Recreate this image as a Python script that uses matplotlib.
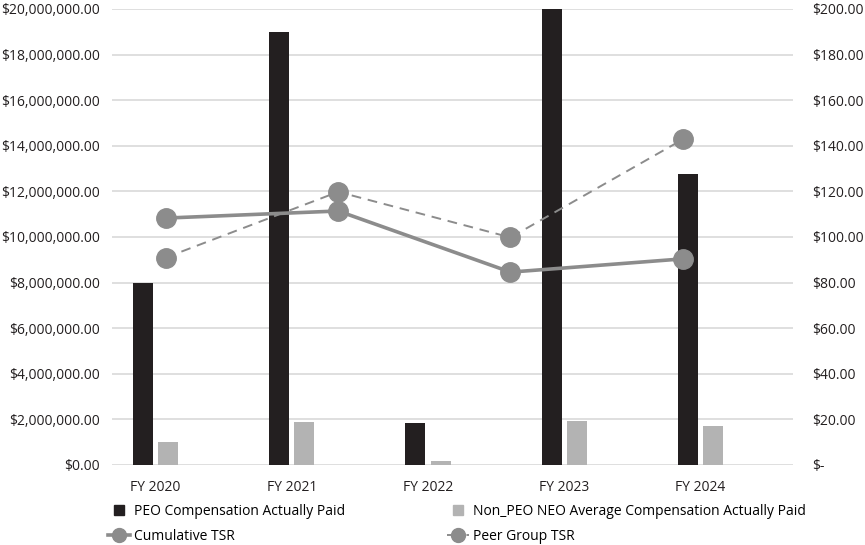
import numpy as np
import matplotlib
matplotlib.use("Agg")
import matplotlib.pyplot as plt
from matplotlib.ticker import FuncFormatter
from matplotlib.lines import Line2D

plt.rcParams['font.family'] = ['Open Sans', 'DejaVu Sans']

years = ['FY 2020', 'FY 2021', 'FY 2022', 'FY 2023', 'FY 2024']
peo_cap = [8000000, 19000000, 1840000, 20000000, 12760000]
neo_cap = [1000000, 1890000, 180000, 1930000, 1710000]

# TSR series only have four points in the source chart
cumulative_tsr = [108.3, 111.4, 84.6, 90.4]
peer_tsr = [91.0, 119.8, 99.8, 142.8]

dark = '#231f20'
light = '#b3b3b3'
line_gray = '#8c8c8c'


def main():
    fig = plt.figure(figsize=(8.65, 5.45), dpi=100)
    ax = fig.add_axes([0.1295, 0.1468, 0.7873, 0.8367])

    x = np.arange(len(years))
    w = 0.147
    ax.bar(x - 0.092, peo_cap, w, color=dark, zorder=3)
    ax.bar(x + 0.092, neo_cap, w, color=light, zorder=3)
    ax.set_xlim(-0.32, 4.68)
    ax.set_ylim(0, 20000000)
    ax.set_yticks(np.arange(0, 20000001, 2000000))
    ax.yaxis.set_major_formatter(FuncFormatter(lambda v, p: '${:,.2f}'.format(v)))
    ax.set_xticks(x)
    ax.set_xticklabels(years)
    ax.grid(axis='y', color='#d9d9d9', linewidth=1.2, zorder=0)
    for s in ax.spines.values():
        s.set_visible(False)
    ax.tick_params(axis='both', length=0, labelsize=10, colors='#231f20')
    ax.tick_params(axis='y', pad=9)
    ax.tick_params(axis='x', pad=11)

    # secondary axes for the TSR lines
    ax2 = ax.twinx().twiny()
    ax2.set_xlim(-0.313, 3.64)
    ax2.set_ylim(0, 200)
    t = np.arange(len(cumulative_tsr))
    ax2.plot(t, cumulative_tsr, color=line_gray, linewidth=2.6, marker='o',
             markersize=14, zorder=4)
    ax2.plot(t, peer_tsr, color=line_gray, linewidth=1.4, linestyle=(0, (5, 3.5)),
             marker='o', markersize=14, zorder=4)
    ax2.set_xticks([])
    ax2.set_yticks([])
    for s in ax2.spines.values():
        s.set_visible(False)

    ax_r = fig.axes[1]
    ax_r.set_ylim(0, 200)
    ax_r.set_yticks(np.arange(0, 201, 20))
    ax_r.yaxis.set_major_formatter(FuncFormatter(lambda v, p: '$-' if v == 0 else '${:,.2f}'.format(v)))
    ax_r.tick_params(axis='y', length=0, labelsize=10, colors='#231f20', pad=14)
    for s in ax_r.spines.values():
        s.set_visible(False)

    handles = [
        Line2D([], [], color=dark, marker='s', linestyle='none', markersize=7),
        Line2D([], [], color=line_gray, linewidth=2.6, marker='o', markersize=10),
        Line2D([], [], color=light, marker='s', linestyle='none', markersize=7),
        Line2D([], [], color=line_gray, linewidth=1.4, linestyle=(0, (3, 2)), marker='o', markersize=10),
    ]
    labels = ['PEO Compensation Actually Paid', 'Cumulative TSR',
              'Non_PEO NEO Average Compensation Actually Paid', 'Peer Group TSR']
    fig.legend(handles, labels, ncol=2, loc='upper left', bbox_to_anchor=(0.118, 0.085),
               frameon=False, fontsize=10, handlelength=1.6, handletextpad=0.3,
               columnspacing=7.3, labelspacing=0.7, borderaxespad=0)

    fig.savefig('out.png', dpi=100)


if __name__ == "__main__":
    main()
